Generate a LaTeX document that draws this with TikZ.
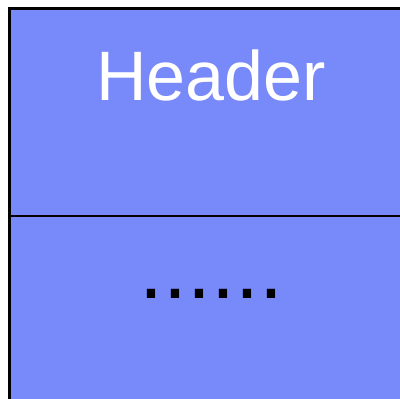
\documentclass[tikz,border=0pt]{standalone}
\usepackage{fontspec}
\setmainfont{Liberation Sans}
\definecolor{boxblue}{RGB}{120,137,249}
\begin{document}
\begin{tikzpicture}[x=1pt,y=-1pt,
  compart/.style={draw=black,line width=2.5pt,fill=boxblue},
  headtext/.style={text=white,font=\fontsize{70}{80}\selectfont,anchor=base,inner sep=0pt},
  dotstext/.style={text=black,font=\fontsize{86}{90}\selectfont,anchor=base,inner sep=0pt}]
\useasboundingbox (0,0) rectangle (400,399);
\fill[white] (0,0) rectangle (400,399);
\draw[compart] (9.7,8.5) rectangle (420,216);
\draw[compart] (9.7,216) rectangle (420,420);
\node[headtext] (header) at (211,100) {Header};
\node[dotstext] (dots) at (211.5,298) {......};
\end{tikzpicture}
\end{document}
